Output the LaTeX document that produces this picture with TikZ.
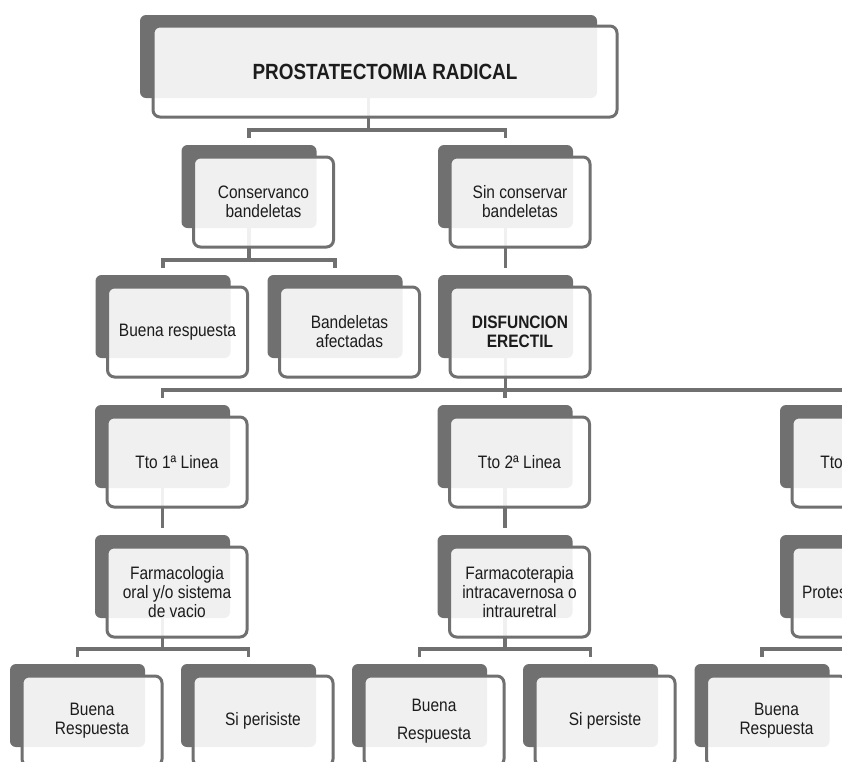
\documentclass[tikz,border=0pt]{standalone}
\usepackage{fontspec}
\setmainfont{Liberation Sans}[FakeStretch=0.86]
\usetikzlibrary{calc}
\usetikzlibrary{backgrounds}
\definecolor{boxgray}{HTML}{707070}
\definecolor{textgray}{HTML}{1C1C1C}

\begin{document}
\begin{tikzpicture}[x=1pt,y=-1pt,
back_style/.style={fill=boxgray,rounded corners=6pt,inner sep=0pt,outer sep=0pt,
  minimum width=135pt,minimum height=83pt,anchor=north west},
front_style/.style={draw=boxgray,line width=3pt,fill=white,fill opacity=0.9,text opacity=1,
  rounded corners=7pt,inner sep=0pt,outer sep=0pt,minimum width=140pt,minimum height=90pt,
  anchor=north west,align=center,text=textgray,font=\fontsize{18}{19}\selectfont},
line_style/.style={draw=boxgray,line width=3.5pt}]

\useasboundingbox (0,0) rectangle (842,761);
\clip (0,0) rectangle (842,761);

% top box
\node[back_style,minimum width=457pt] (top-b) at (140,15) {};
\node[front_style,minimum width=464pt,minimum height=91pt,
  font=\fontsize{22}{24}\bfseries] (top) at (153,26) {PROSTATECTOMIA RADICAL};

% other boxes: name / centre of back box / top / text
\foreach \n/\cx/\ty/\txt in {
  cons/249/145/{Conservanco\\bandeletas},
  sinc/505.5/145/{Sin conservar\\bandeletas},
  buena1/163/275/{Buena respuesta},
  afect/335/275/{Bandeletas\\afectadas},
  disf/505.5/275/{\textbf{DISFUNCION}\\\textbf{ERECTIL}},
  tto1/162.5/405/{Tto 1ª Linea},
  tto2/505/405/{Tto 2ª Linea},
  tto3/847.5/405/{Tto 3ª Linea},
  farm1/162.5/535/{Farmacologia\\oral y/o sistema\\de vacio},
  farm2/505/535/{Farmacoterapia\\intracavernosa o\\intrauretral},
  prot/847.5/535/{\makebox[120pt][l]{Protesis}},
  leaf1/77.5/664/{Buena\\Respuesta},
  leaf2/248.5/664/{Si perisiste},
  leaf3/419.5/664/{Buena\\[9pt]Respuesta},
  leaf4/590.5/664/{Si persiste},
  leaf5/762/664/{Buena\\Respuesta}}{
  \node[back_style] (\n-b) at (\cx-67.5,\ty) {};
  \node[front_style] (\n) at (\cx-55.5,\ty+12) {\txt};
}

% connectors, behind the boxes
\begin{scope}[on background layer]
\fill[white] (0,0) rectangle (842,761);
\foreach \p/\c in {top/cons,top/sinc,cons/buena1,cons/afect,sinc/disf,
  disf/tto1,disf/tto2,disf/tto3,tto1/farm1,tto2/farm2,tto3/prot,
  farm1/leaf1,farm1/leaf2,farm2/leaf3,farm2/leaf4,prot/leaf5}
  \draw[line_style,shorten >=7pt] (\p-b.south) |- ($(\c-b.north)+(0,-15)$) -- (\c-b.north);
\end{scope}
\end{tikzpicture}
\end{document}
